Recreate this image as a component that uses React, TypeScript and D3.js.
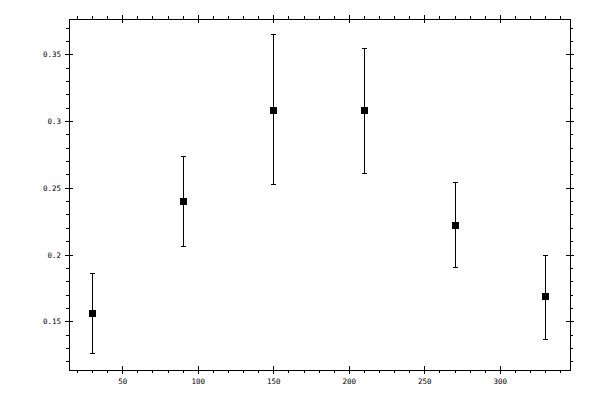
import React from 'react';
import * as d3 from 'd3';

// Data
const angles = [30, 90, 150, 210, 270, 330];
const means = [0.156, 0.240, 0.308, 0.308, 0.222, 0.169];
const lows = [0.126, 0.206, 0.253, 0.261, 0.191, 0.137];
const highs = [0.186, 0.274, 0.365, 0.355, 0.254, 0.200];

const xMajorTicks = [50, 100, 150, 200, 250, 300];
const yMajorTicks = [0.15, 0.2, 0.25, 0.3, 0.35];

const width = 600;
const height = 400;
const margin = { top: 19, right: 30, bottom: 30, left: 69 };

const App = () => {
  const x = d3.scaleLinear().domain([14.4, 346.1]).range([margin.left, width - margin.right]);
  const y = d3.scaleLinear().domain([0.1138, 0.3769]).range([height - margin.bottom, margin.top]);

  const [x0, x1] = x.range();
  const [y0, y1] = y.range(); // y0 bottom, y1 top

  // minor ticks every 10 on x, every 0.01 on y
  const xMinor = d3.range(20, 341, 10).filter(v => v % 50 !== 0);
  const yMinor = d3.range(12, 38).map(v => v / 100).filter(v => Math.round(v * 100) % 5 !== 0);

  const font = { fontFamily: '"DejaVu Sans Mono", monospace', fontSize: '7.5px' };
  const minor = 3;
  const major = 4;

  return (
    <svg
      width={width}
      height={height}
      style={{ position: 'absolute', left: 0, top: 0, background: '#fff' }}
    >
      <g stroke="#000" strokeWidth={1} shapeRendering="crispEdges">
        {/* frame */}
        <rect x={x0} y={y1} width={x1 - x0} height={y0 - y1} fill="none" />

        {/* x minor ticks, bottom and top, outside */}
        {xMinor.map(v => (
          <g key={'xm' + v}>
            <line x1={x(v)} x2={x(v)} y1={y0} y2={y0 + minor} />
            <line x1={x(v)} x2={x(v)} y1={y1} y2={y1 - minor} />
          </g>
        ))}
        {/* x major ticks cross the axis */}
        {xMajorTicks.map(v => (
          <g key={'xM' + v}>
            <line x1={x(v)} x2={x(v)} y1={y0 - major} y2={y0 + major} />
            <line x1={x(v)} x2={x(v)} y1={y1 - major} y2={y1 + major} />
          </g>
        ))}

        {/* y minor ticks, left and right, outside */}
        {yMinor.map(v => (
          <g key={'ym' + v}>
            <line x1={x0 - minor} x2={x0} y1={y(v)} y2={y(v)} />
            <line x1={x1} x2={x1 + minor} y1={y(v)} y2={y(v)} />
          </g>
        ))}
        {yMajorTicks.map(v => (
          <g key={'yM' + v}>
            <line x1={x0 - major} x2={x0 + major} y1={y(v)} y2={y(v)} />
            <line x1={x1 - major} x2={x1 + major} y1={y(v)} y2={y(v)} />
          </g>
        ))}

        {/* error bars */}
        {angles.map((a, i) => (
          <g key={'e' + a}>
            <line x1={x(a)} x2={x(a)} y1={y(lows[i])} y2={y(highs[i])} />
            <line x1={x(a) - 2.5} x2={x(a) + 2.5} y1={y(lows[i])} y2={y(lows[i])} />
            <line x1={x(a) - 2.5} x2={x(a) + 2.5} y1={y(highs[i])} y2={y(highs[i])} />
          </g>
        ))}
      </g>

      {/* markers */}
      <g fill="#000" shapeRendering="crispEdges">
        {angles.map((a, i) => (
          <rect key={'m' + a} x={x(a) - 3.5} y={y(means[i]) - 3.5} width={7} height={7} />
        ))}
      </g>

      {/* tick labels */}
      <g style={font} fill="#000">
        {xMajorTicks.map(v => (
          <text key={'xl' + v} x={x(v)} y={y0 + 14} textAnchor="middle">
            {String(v)}
          </text>
        ))}
        {yMajorTicks.map(v => (
          <text key={'yl' + v} x={x0 - 8} y={y(v) + 2.5} textAnchor="end">
            {String(v)}
          </text>
        ))}
      </g>
    </svg>
  );
};

export default App;
